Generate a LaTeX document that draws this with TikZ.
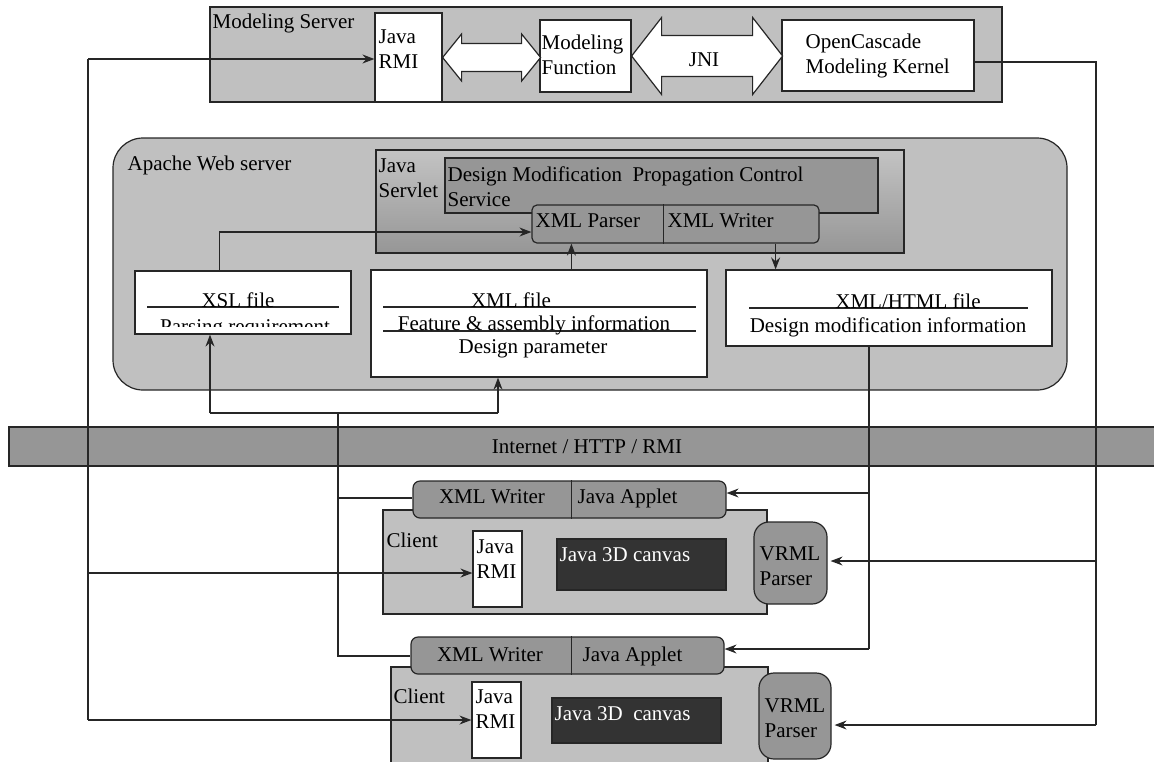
\documentclass[tikz,border=0pt]{standalone}
\usepackage{fontspec}
\setmainfont{Liberation Serif}
\usepackage{tikz}
\usetikzlibrary{fit}
\usetikzlibrary{positioning}
\usetikzlibrary{arrows.meta}
\usetikzlibrary{calc}
\definecolor{lgray}{HTML}{C0C0C0}
\definecolor{mgray}{HTML}{969696}
\definecolor{dgray}{HTML}{333333}
\definecolor{ink}{HTML}{262626}

\begin{document}
\begin{tikzpicture}[
            x = 0.5pt, y = -0.5pt, % one unit = one pixel of the layout
            > = {Stealth[length=6pt, width=4.5pt, inset=2pt]},
            line width = 0.6pt,
            font = \fontsize{10.5}{12.5}\selectfont
        ]

        \tikzstyle{box}=[draw = ink, inner sep = 0pt]
        \tikzstyle{txt}=[inner sep = 0pt, anchor = base west]
        \tikzstyle{ctxt}=[inner sep = 0pt, anchor = base]
        \tikzstyle{mtxt}=[inner sep = 0pt, anchor = north west, align = left]
        \tikzstyle{wire}=[draw = ink]

        \useasboundingbox (0,0) rectangle (1154,761);

        % modeling server
        \node[box, fill = lgray, fit = {(210,7) (1002,102)}] (server) {};
        \node[txt] (serverlbl) at (212,28) {Modeling Server};
        \node[box, fill = white, fit = {(375,13) (442,102)}] (srvrmi) {};
        \node[mtxt] (srvrmilbl) at (378,29) {Java\\RMI};
        \node[box, fill = white, fit = {(540,20) (631,92)}] (modfunc) {};
        \node[mtxt] (modfunclbl) at (541,34) {Modeling\\Function};
        \node[box, fill = white, fit = {(782,20) (974,91)}] (occ) {};
        \node[mtxt] (occlbl) at (805,33) {OpenCascade\\Modeling Kernel};

        \draw[wire, fill = white] (srvrmi.east) -- ++(19,-23.5) -- ++(0,9.5) -- ++(60,0) -- ++(0,-9.5)
            -- ++(19,23.5) -- ++(-19,23.5) -- ++(0,-9.5) -- ++(-60,0) -- ++(0,9.5) -- cycle;
        \draw[wire, fill = white] (modfunc.east) -- ++(30,-38.5) -- ++(0,18) -- ++(91,0) -- ++(0,-18)
            -- ++(30,38.5) -- ++(-30,38.5) -- ++(0,-18) -- ++(-91,0) -- ++(0,18) -- cycle;
        \node[ctxt] (jni) at (704,66) {JNI};

        % web server
        \node[box, fill = lgray, rounded corners = 15pt, fit = {(113,138) (1067,390)}] (apache) {};
        \node[txt] (apachelbl) at (127,170) {Apache Web server};
        \node[box, top color = lgray!95!white, bottom color = mgray, fit = {(376,150) (904,253)}] (servlet) {};
        \node[mtxt] (servletlbl) at (378,158) {Java\\Servlet};
        \node[box, fill = mgray, fit = {(445,158) (878,213)}] (dmpc) {};
        \node[mtxt] (dmpclbl) at (447,166) {Design Modification\ \ Propagation Control\\Service};
        \node[box, fill = mgray, rounded corners = 2.5pt, fit = {(532,205) (819,243)}] (pw) {};
        \draw[wire] ([xshift=66pt]pw.north west) -- ([xshift=66pt]pw.south west);
        \node[txt] (parser) at (535,227) {XML Parser};
        \node[txt] (writer) at (667,227) {XML Writer};

        \node[box, fill = white, fit = {(135,271) (351,334)}] (xsl) {};
        \draw[wire] (147,307) -- (339,307);
        \node[ctxt] (xslname) at (238,307) {XSL file};
        \begin{scope}
          \clip (xsl.north west) rectangle ($(xsl.south east)+(0,-8)$);
          \node[ctxt] (xslreq) at (245,333) {Parsing requirement};
        \end{scope}

        \node[box, fill = white, fit = {(371,270) (707,377)}] (xmlf) {};
        \draw[wire] (383,307) -- (696,307);
        \draw[wire] (383,331) -- (696,331);
        \node[ctxt] (xmlfname) at (511,307) {XML file};
        \node[ctxt] (xmlfinfo) at (534,330) {Feature \& assembly information};
        \node[ctxt] (xmlfpar) at (533,353) {Design parameter};

        \node[box, fill = white, fit = {(726,270) (1052,346)}] (xhtml) {};
        \draw[wire] (749,308) -- (1028,308);
        \node[ctxt] (xhtmlname) at (908,308) {XML/HTML file};
        \node[ctxt] (xhtmlinfo) at (888,332) {Design modification information};

        % network
        \node[box, fill = mgray, fit = {(9,427) (1160,466)}] (net) {};
        \node[ctxt] (netlbl) at (587,453) {Internet / HTTP / RMI};

        % first client
        \node[box, fill = lgray, fit = {(383,510) (767,614)}] (client1) {};
        \node[box, fill = mgray, rounded corners = 3.5pt, fit = {(413,481) (726,518)}] (app1) {};
        \draw[wire] ([xshift=79.5pt]app1.north west) -- ([xshift=79.5pt]app1.south west);
        \node[ctxt] (app1w) at (492,503) {XML Writer};
        \node[txt] (app1a) at (577,503) {Java Applet};
        \node[txt] (client1lbl) at (386,547) {Client};
        \node[box, fill = white, fit = {(473,531) (522,607)}] (crmi1) {};
        \node[mtxt] (crmi1lbl) at (476,539) {Java\\RMI};
        \node[box, fill = dgray, fit = {(557,539) (726,590)}] (canvas1) {};
        \node[txt, text = white] (canvas1lbl) at (559,561) {Java 3D canvas};
        \node[box, fill = mgray, rounded corners = 7.5pt, fit = {(754,522) (827,604)}] (vrml1) {};
        \node[mtxt] (vrml1lbl) at (759,546) {VRML\\Parser};

        % second client
        \node[box, fill = lgray, fit = {(391,667) (768,770)}] (client2) {};
        \node[box, fill = mgray, rounded corners = 3.5pt, fit = {(411,637) (724,674)}] (app2) {};
        \draw[wire] ([xshift=80.5pt]app2.north west) -- ([xshift=80.5pt]app2.south west);
        \node[ctxt] (app2w) at (490,661) {XML Writer};
        \node[txt] (app2a) at (582,661) {Java Applet};
        \node[txt] (client2lbl) at (393,703) {Client};
        \node[box, fill = white, fit = {(472,682) (521,758)}] (crmi2) {};
        \node[mtxt] (crmi2lbl) at (475,689) {Java\\RMI};
        \node[box, fill = dgray, fit = {(552,698) (721,743)}] (canvas2) {};
        \node[txt, text = white] (canvas2lbl) at (554,720) {Java 3D\ \ canvas};
        \node[box, fill = mgray, rounded corners = 7.5pt, fit = {(759,673) (831,759)}] (vrml2) {};
        \node[mtxt] (vrml2lbl) at (764,698) {VRML\\Parser};

        % rmi lines on the left
        \coordinate (lbus) at (88,59);
        \coordinate (lrow1) at (88,573);
        \coordinate (lrow2) at (88,720);
        \draw[wire] (lbus) -- (lrow2);
        \draw[wire, ->] (lbus) -- (lbus -| srvrmi.west);
        \draw[wire, ->] (lrow1) -- (lrow1 -| crmi1.west);
        \draw[wire, ->] (lrow2) -- (lrow2 -| crmi2.west);

        % kernel output to the vrml parsers
        \coordinate (rtop) at (1096,62);
        \coordinate (rrow1) at (1096,561);
        \coordinate (rrow2) at (1096,725);
        \draw[wire] (rtop -| occ.east) -- (rtop) -- (rrow2);
        \draw[wire, ->, shorten > = 1.5pt] (rrow1) -- (rrow1 -| vrml1.east);
        \draw[wire, ->, shorten > = 1.5pt] (rrow2) -- (rrow2 -| vrml2.east);

        % inside the servlet
        \coordinate (xslout) at ($(xsl.north west)+(85,0)$);
        \coordinate (pin) at ([xshift=20pt]pw.south west);
        \coordinate (pout) at ([xshift=-22pt]pw.south east);
        \draw[wire, ->] (xslout) |- ([yshift=-4pt]pw.west);
        \draw[wire, ->] (xmlf.north -| pin) -- (pin);
        \draw[wire, ->] (pout) -- (pout |- xhtml.north);

        % modification info down to the applets
        \coordinate (hout) at ([xshift=-10pt]xhtml.south);
        \coordinate (hrow1) at (869,493);
        \coordinate (hrow2) at (869,649);
        \draw[wire] (hout) -- (hrow2);
        \draw[wire, ->] (hrow1) -- (hrow1 -| app1.east);
        \draw[wire, ->] (hrow2) -- (hrow2 -| app2.east);

        % xml writers up to the files
        \coordinate (bl) at (210,413);
        \coordinate (br) at (498,413);
        \coordinate (wtop) at (338,413);
        \coordinate (wrow1) at (338,498);
        \coordinate (wrow2) at (338,656);
        \draw[wire] (bl) -- (br);
        \draw[wire, ->] (bl) -- (bl |- xsl.south);
        \draw[wire, ->] (br) -- (br |- xmlf.south);
        \draw[wire] (wtop) -- (wrow2) -- (wrow2 -| app2.west);
        \draw[wire] (wrow1) -- (wrow1 -| app1.west);

\end{tikzpicture}
\end{document}
